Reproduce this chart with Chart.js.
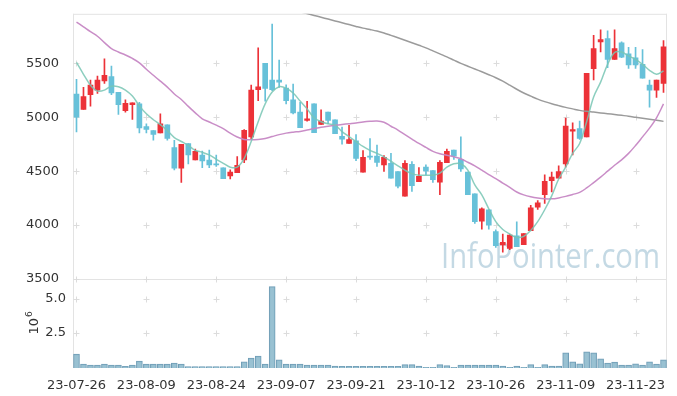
<!DOCTYPE html>
<html>
<head>
<meta charset="utf-8">
<script src="https://cdn.jsdelivr.net/npm/chart.js@4.4.0/dist/chart.umd.min.js"></script>
<style>
  html, body { margin: 0; padding: 0; background: #ffffff; }
  #wrap { width: 677px; height: 396px; }
</style>
</head>
<body>
<div id="wrap"><canvas id="c" width="677" height="396"></canvas></div>
<script>
const dates = ['23-07-26','23-07-27','23-07-28','23-07-31','23-08-01','23-08-02','23-08-03','23-08-04','23-08-07','23-08-08',
'23-08-09','23-08-10','23-08-11','23-08-14','23-08-16','23-08-17','23-08-18','23-08-21','23-08-22','23-08-23',
'23-08-24','23-08-25','23-08-28','23-08-29','23-08-30','23-08-31','23-09-01','23-09-04','23-09-05','23-09-06',
'23-09-07','23-09-08','23-09-11','23-09-12','23-09-13','23-09-14','23-09-15','23-09-18','23-09-19','23-09-20',
'23-09-21','23-09-22','23-09-25','23-09-26','23-09-27','23-10-04','23-10-05','23-10-06','23-10-10','23-10-11',
'23-10-12','23-10-13','23-10-16','23-10-17','23-10-18','23-10-19','23-10-20','23-10-23','23-10-24','23-10-25',
'23-10-26','23-10-27','23-10-30','23-10-31','23-11-01','23-11-02','23-11-03','23-11-06','23-11-07','23-11-08',
'23-11-09','23-11-10','23-11-13','23-11-14','23-11-15','23-11-16','23-11-17','23-11-20','23-11-21','23-11-22',
'23-11-23','23-11-24','23-11-27','23-11-28','23-11-29'];

const opens = [5216,5072,5209,5252,5338,5378,5231,5062,5117,5124,
4913,4876,4855,4931,4720,4528,4757,4604,4650,4604,
4567,4530,4457,4485,4604,4818,5255,5500,5344,5344,
5271,5161,5048,4971,5124,4934,5048,4977,4824,4757,
4782,4491,4640,4640,4558,4573,4497,4268,4564,4402,
4537,4506,4399,4580,4695,4610,4491,4289,4035,4142,
3940,3815,3784,3901,3818,3947,4167,4283,4411,4436,
4567,4870,4894,4818,5451,5699,5729,5537,5690,5589,
5552,5491,5298,5252,5314];
const highs = [5353,5277,5344,5383,5543,5475,5231,5163,5133,5139,
4940,4876,5032,4931,4787,4748,4757,4705,4686,4695,
4650,4530,4512,4635,4885,5298,5644,5500,5864,5530,
5300,5307,5139,5149,5124,5069,5048,4977,4910,4925,
4839,4690,4803,4741,4644,4665,4497,4598,4589,4534,
4558,4506,4598,4705,4695,4818,4491,4289,4161,4142,
3956,3916,3912,4029,3922,4182,4227,4466,4491,4549,
4993,4949,4965,5408,5760,5812,5803,5812,5699,5650,
5650,5628,5344,5344,5711];
const lows = [4864,5072,5103,5222,5314,5209,5026,5048,4980,4855,
4855,4787,4855,4787,4512,4396,4567,4604,4533,4533,
4543,4430,4427,4485,4580,4793,5154,5149,5246,5277,
5124,5032,4904,4965,4858,4934,4940,4849,4750,4757,
4598,4491,4610,4543,4497,4436,4344,4268,4311,4402,
4466,4396,4283,4580,4610,4497,4283,4016,3962,3962,
3793,3748,3772,3800,3818,3947,4145,4200,4307,4436,
4537,4650,4795,4818,5347,5607,5461,5537,5552,5454,
5454,5362,5094,5185,5231];
const closes = [5002,5191,5298,5344,5390,5225,5117,5130,5133,4901,
4888,4842,4940,4803,4528,4748,4650,4684,4595,4558,
4558,4430,4491,4555,4879,5252,5283,5268,5255,5326,
5154,5041,4904,4986,4858,4965,4971,4849,4797,4794,
4619,4628,4631,4582,4628,4436,4360,4573,4366,4451,
4503,4421,4583,4684,4640,4521,4283,4032,4151,3998,
3809,3839,3906,3800,3922,4160,4206,4406,4445,4497,
4919,4885,4803,5408,5638,5720,5537,5638,5558,5485,
5485,5362,5252,5344,5653];

const ma5 = [5509,5399,5298,5243,5252,5289,5284,5252,5197,5106,
5032,4977,4931,4876,4812,4775,4739,4693,4675,4651,
4610,4573,4537,4537,4619,4775,4959,5124,5234,5284,
5271,5225,5151,5078,4995,4959,4940,4927,4867,4821,
4775,4729,4693,4665,4633,4592,4550,4509,4477,4463,
4463,4463,4482,4537,4569,4569,4509,4372,4280,4151,
4032,3959,3917,3885,3895,3950,4032,4142,4271,4427,
4537,4665,4757,4959,5188,5326,5491,5601,5606,5569,
5537,5491,5436,5399,5429];
const ma20 = [5883,5839,5794,5752,5693,5638,5606,5578,5546,5505,
5445,5390,5335,5280,5216,5165,5101,5041,4986,4956,
4927,4895,4853,4817,4794,4791,4794,4803,4821,4839,
4853,4862,4869,4881,4895,4908,4917,4925,4933,4940,
4947,4956,4962,4965,4954,4917,4881,4839,4798,4757,
4720,4684,4661,4647,4633,4615,4583,4550,4509,4468,
4431,4390,4349,4307,4280,4262,4250,4243,4243,4252,
4266,4284,4303,4344,4394,4445,4500,4555,4605,4665,
4738,4818,4899,4995,5124];
const ma60 = [null,null,null,null,null,null,null,null,null,null,
null,null,null,null,null,null,null,null,null,null,
null,null,null,null,null,null,null,null,6047,6030,
6013,5996,5979,5962,5945,5928,5911,5894,5877,5860,
5843,5827,5814,5800,5782,5760,5738,5715,5692,5668,
5644,5616,5588,5560,5530,5500,5474,5448,5422,5395,
5367,5335,5298,5260,5225,5196,5168,5145,5125,5108,
5092,5078,5064,5055,5048,5040,5033,5026,5018,5010,
5000,4990,4981,4972,4962];
// volume in millions of shares
const volume = [1.0,0.29,0.21,0.21,0.29,0.21,0.21,0.12,0.21,0.5,
0.29,0.29,0.29,0.29,0.36,0.29,0.1,0.1,0.1,0.1,
0.1,0.1,0.1,0.1,0.45,0.71,0.86,0.29,5.88,0.59,
0.29,0.29,0.29,0.21,0.21,0.21,0.21,0.14,0.12,0.12,
0.12,0.12,0.12,0.12,0.12,0.12,0.12,0.24,0.24,0.14,
0.05,0.05,0.24,0.17,0.05,0.21,0.21,0.21,0.21,0.21,
0.21,0.14,0.05,0.14,0.05,0.24,0.05,0.24,0.14,0.14,
1.09,0.45,0.31,1.16,1.09,0.66,0.36,0.43,0.21,0.21,
0.31,0.21,0.45,0.29,0.59];

const priceTicks = [3500, 4000, 4500, 5000, 5500];
const volTicks = [2.5, 5];
const volTickLabels = ['2.5', '5.0'];
const volTitleBase = '10';
const volTitleExp = '6';
const watermark = 'InfoPointer.com';

const UP = '#ec3238';
const DOWN = '#67c1d9';
const candleColors = opens.map((o, i) => closes[i] >= o ? UP : DOWN);
const tickFont = { family: '"DejaVu Sans", sans-serif', size: 13 };

const decorPlugin = {
  id: 'decor',
  beforeDatasetsDraw(chart) {
    const {ctx, chartArea: a, scales} = chart;
    const xs = scales.x, yp = scales.yPrice, yv = scales.yVol;
    ctx.save();
    ctx.strokeStyle = '#e3e3e3';
    ctx.lineWidth = 1;
    ctx.beginPath();
    ctx.moveTo(a.left + 0.5, a.top); ctx.lineTo(a.left + 0.5, a.bottom);
    ctx.moveTo(a.right - 0.5, a.top); ctx.lineTo(a.right - 0.5, a.bottom);
    ctx.moveTo(a.left, a.top + 0.5); ctx.lineTo(a.right, a.top + 0.5);
    ctx.moveTo(a.left, Math.round(yp.bottom) + 0.5); ctx.lineTo(a.right, Math.round(yp.bottom) + 0.5);
    ctx.stroke();
    const px = [];
    dates.forEach((d, i) => { if (i % 10 === 0) px.push(Math.round(xs.getPixelForValue(i)) + 0.5); });
    const py = [];
    priceTicks.forEach(v => py.push(Math.round(yp.getPixelForValue(v)) + 0.5));
    volTicks.forEach(v => py.push(Math.round(yv.getPixelForValue(v)) + 0.5));
    ctx.strokeStyle = '#dcdcdc';
    ctx.beginPath();
    px.forEach(x => py.forEach(y => {
      ctx.moveTo(x - 3, y); ctx.lineTo(x + 3, y);
      ctx.moveTo(x, y - 3); ctx.lineTo(x, y + 3);
    }));
    ctx.stroke();
    ctx.font = '34px "Open Sans", sans-serif';
    ctx.fillStyle = 'rgba(160,193,212,0.62)';
    ctx.textAlign = 'left';
    ctx.textBaseline = 'alphabetic';
    const w = ctx.measureText(watermark).width;
    ctx.translate(441, 268);
    ctx.scale(219 / w, 1);
    ctx.fillText(watermark, 0, 0);
    ctx.restore();
  },
  afterDraw(chart) {
    const {ctx, scales} = chart;
    const yv = scales.yVol;
    ctx.save();
    ctx.setTransform(1, 0, 0, 1, 0, 0);
    ctx.globalAlpha = 1;
    ctx.fillStyle = '#333333';
    ctx.font = '13px "DejaVu Sans", sans-serif';
    ctx.textAlign = 'right';
    ctx.textBaseline = 'middle';
    ctx.fillText(volTickLabels[0], 66, Math.round(yv.getPixelForValue(volTicks[0])));
    ctx.fillText(volTickLabels[1], 66, Math.round(yv.getPixelForValue(volTicks[1])));
    // rotated axis title 10^6
    const cy = (yv.top + yv.bottom) / 2;
    ctx.translate(38, cy);
    ctx.rotate(-Math.PI / 2);
    ctx.textAlign = 'left';
    ctx.textBaseline = 'alphabetic';
    const bw = ctx.measureText(volTitleBase).width;
    ctx.font = '9px "DejaVu Sans", sans-serif';
    const ew = ctx.measureText(volTitleExp).width;
    const start = -(bw + ew) / 2;
    ctx.font = '13px "DejaVu Sans", sans-serif';
    ctx.fillText(volTitleBase, start, 0);
    ctx.font = '9px "DejaVu Sans", sans-serif';
    ctx.fillText(volTitleExp, start + bw + 1, -6);
    ctx.restore();
  }
};

new Chart(document.getElementById('c'), {
  data: {
    labels: dates,
    datasets: [
      { type: 'line', label: 'MA5', data: ma5, yAxisID: 'yPrice', borderColor: 'rgba(120,198,180,0.85)', borderWidth: 1.5, pointRadius: 0, tension: 0.35, order: 0 },
      { type: 'line', label: 'MA20', data: ma20, yAxisID: 'yPrice', borderColor: 'rgba(198,135,196,0.95)', borderWidth: 1.5, pointRadius: 0, tension: 0.35, order: 0 },
      { type: 'line', label: 'MA60', data: ma60, yAxisID: 'yPrice', borderColor: 'rgba(150,150,150,0.95)', borderWidth: 1.5, pointRadius: 0, tension: 0.35, order: 0 },
      { type: 'bar', label: 'body', data: opens.map((o, i) => [o, closes[i]]), yAxisID: 'yPrice', backgroundColor: candleColors, barThickness: 5, grouped: false, order: 1 },
      { type: 'bar', label: 'wick', data: lows.map((l, i) => [l, highs[i]]), yAxisID: 'yPrice', backgroundColor: candleColors, barThickness: 1, grouped: false, order: 2 },
      { type: 'bar', label: 'volume', data: volume, yAxisID: 'yVol', backgroundColor: 'rgba(148,190,208,0.95)', borderColor: '#6f9db6', borderWidth: 1, barThickness: 6, grouped: false, order: 3 }
    ]
  },
  options: {
    responsive: false,
    animation: false,
    layout: { padding: { top: 10, right: 10, left: 0, bottom: 0 } },
    plugins: { legend: { display: false }, tooltip: { enabled: false } },
    scales: {
      x: {
        type: 'category',
        offset: true,
        grid: { display: false },
        border: { display: false },
        ticks: {
          autoSkip: false, maxRotation: 0, minRotation: 0, padding: 2,
          color: '#333', font: tickFont,
          callback: (v, i) => (i % 10 === 0 ? dates[i] : '')
        },
        afterFit: s => { s.height = 28; }
      },
      yVol: {
        type: 'linear', position: 'left', stack: 'main', stackWeight: 90,
        min: 0, max: 6.43,
        grid: { display: false }, border: { display: false },
        title: { display: false },
        ticks: { display: false },
        afterFit: s => { s.width = 73; }
      },
      yPrice: {
        type: 'linear', position: 'left', stack: 'main', stackWeight: 268,
        min: 3500, max: 5960,
        grid: { display: false }, border: { display: false },
        afterBuildTicks: s => { s.ticks = priceTicks.map(v => ({ value: v })); },
        ticks: { autoSkip: false, padding: 6, color: '#333', font: tickFont, callback: v => String(v) },
        afterFit: s => { s.width = 73; }
      }
    }
  },
  plugins: [decorPlugin]
});
</script>
</body>
</html>
